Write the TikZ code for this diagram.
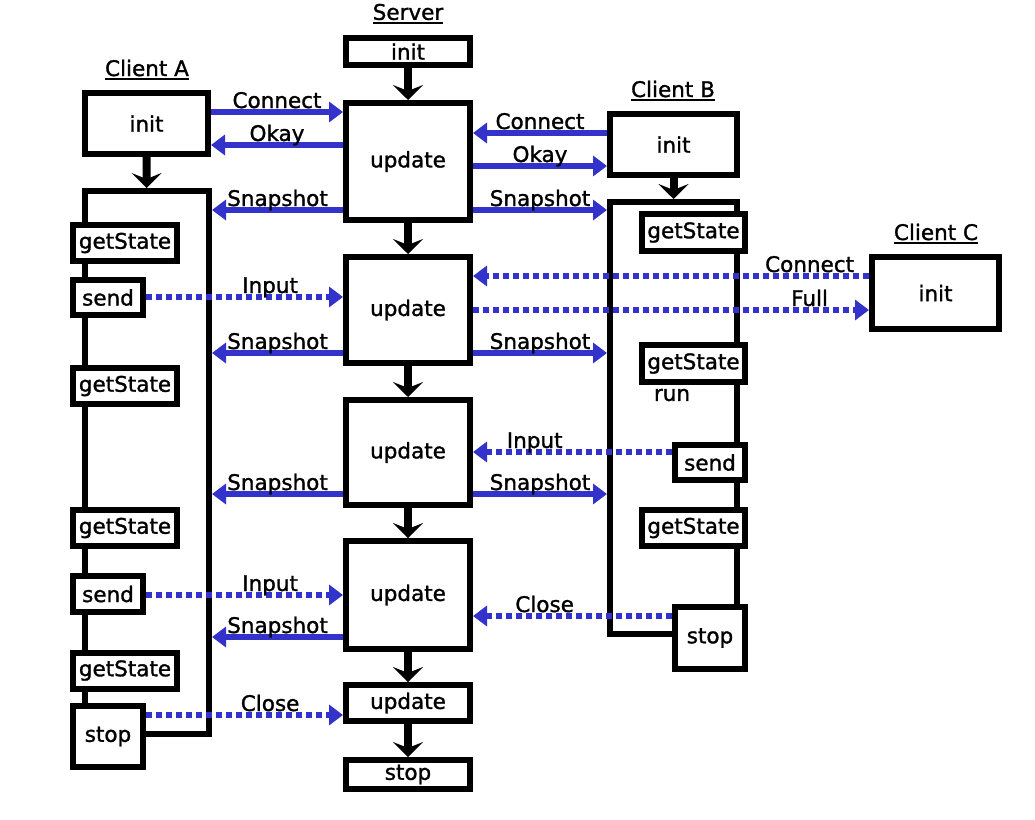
\documentclass[tikz,border=0pt]{standalone}
\usepackage{fontspec}
\newfontfamily\lblfont[FakeBold=1.3]{DejaVu Sans}
\usetikzlibrary{arrows.meta}
\definecolor{msgblue}{RGB}{51,51,204}
\begin{document}
\begin{tikzpicture}[x=1pt,y=-1pt,
  txt/.style={font=\lblfont\fontsize{21.5}{25}\selectfont},
  box/.style={txt, draw, line width=6pt, fill=white, inner sep=0pt},
  header/.style={txt, inner xsep=0pt, inner ysep=2.5pt,
    append after command={(\tikzlastnode.south west) edge[line width=1.6pt] (\tikzlastnode.south east)}},
  flow/.style={line width=8pt, -{Stealth[length=15pt,width=30pt,inset=6pt]}},
  msg/.style={draw=msgblue, line width=6pt, -{Triangle[length=14pt,width=20pt]}},
  msgd/.style={msg, dash pattern=on 6pt off 4pt},
  lbl/.style={txt, anchor=base, yshift=4pt, inner sep=0pt, text=black}
]
\useasboundingbox (0,0) rectangle (1035,819);

% ---------- Server ----------
\node[header] (hs) at (408,12) {Server};
\node[box, minimum width=124, minimum height=27] (sinit) at (408,51.5) {init};
\node[box, minimum width=124, minimum height=117] (su1) at (408,161.5) {update};
\node[box, minimum width=124, minimum height=106] (su2) at (408,310) {update};
\node[box, minimum width=124, minimum height=105] (su3) at (408,452.5) {update};
\node[box, minimum width=124, minimum height=108] (su4) at (408,595) {update};
\node[box, minimum width=124, minimum height=36] (su5) at (408,703) {update};
\node[box, minimum width=124, minimum height=29] (sstop) at (408,774.5) {stop};
\draw[flow] (sinit) -- (su1);
\draw[flow] (su1) -- (su2);
\draw[flow] (su2) -- (su3);
\draw[flow] (su3) -- (su4);
\draw[flow] (su4) -- (su5);
\draw[flow] (su5) -- (sstop);

% ---------- Client A ----------
\node[header] (ha) at (147,68) {Client A};
\node[box, minimum width=123, minimum height=61] (ainit) at (146.5,123.5) {init};
\node[box, minimum width=124, minimum height=543] (arun) at (147,462.5) {};
\draw[flow] (ainit) -- (arun);
\node[box, minimum width=104, minimum height=36] (ags1) at (125,243) {getState};
\node[box, minimum width=70, minimum height=35] (asend1) at (108,297.5) {send};
\node[box, minimum width=104, minimum height=36] (ags2) at (125,386) {getState};
\node[box, minimum width=104, minimum height=36] (ags3) at (125,528) {getState};
\node[box, minimum width=70, minimum height=36] (asend2) at (108,594) {send};
\node[box, minimum width=104, minimum height=36] (ags4) at (125,670.5) {getState};
\node[box, minimum width=70, minimum height=61] (astop) at (108,736.5) {stop};

% ---------- Client B ----------
\node[header] (hb) at (673,89) {Client B};
\node[box, minimum width=127, minimum height=61] (binit) at (673.5,144.5) {init};
\node[box, minimum width=127, minimum height=432] (brun) at (673.5,418) {};
\draw[flow] (binit) -- (brun);
\node[box, minimum width=103, minimum height=37] (bgs1) at (693.5,232.5) {getState};
\node[box, minimum width=103, minimum height=37] (bgs2) at (693.5,363.5) {getState};
\node[txt, inner sep=0pt] (brunlbl) at (672,395) {run};
\node[box, minimum width=70, minimum height=35] (bsend) at (710,462.5) {send};
\node[box, minimum width=103, minimum height=36] (bgs3) at (693.5,528) {getState};
\node[box, minimum width=70, minimum height=62] (bstop) at (710,638) {stop};

% ---------- Client C ----------
\node[header] (hc) at (936,232) {Client C};
\node[box, minimum width=127, minimum height=72] (cinit) at (935.5,293) {init};

% ---------- Messages: Client A ----------
\draw[msg] (ainit.east |- 0,112) -- node[lbl]{Connect} (su1.west |- 0,112);
\draw[msg] (su1.west |- 0,145) -- node[lbl]{Okay} (ainit.east |- 0,145);
\draw[msg] (su1.west |- 0,210) -- node[lbl]{Snapshot} (arun.east |- 0,210);
\draw[msgd] (asend1.east |- 0,297) -- node[lbl, pos=0.63]{Input} (su2.west |- 0,297);
\draw[msg] (su2.west |- 0,353) -- node[lbl]{Snapshot} (arun.east |- 0,353);
\draw[msg] (su3.west |- 0,494) -- node[lbl]{Snapshot} (arun.east |- 0,494);
\draw[msgd] (asend2.east |- 0,595) -- node[lbl, pos=0.63]{Input} (su4.west |- 0,595);
\draw[msg] (su4.west |- 0,637) -- node[lbl]{Snapshot} (arun.east |- 0,637);
\draw[msgd] (astop.east |- 0,715) -- node[lbl, pos=0.63]{Close} (su5.west |- 0,715);

% ---------- Messages: Client B ----------
\draw[msg] (binit.west |- 0,133) -- node[lbl]{Connect} (su1.east |- 0,133);
\draw[msg] (su1.east |- 0,166) -- node[lbl]{Okay} (binit.west |- 0,166);
\draw[msg] (su1.east |- 0,210) -- node[lbl]{Snapshot} (brun.west |- 0,210);
\draw[msg] (su2.east |- 0,353) -- node[lbl]{Snapshot} (brun.west |- 0,353);
\draw[msgd] (bsend.west |- 0,452) -- node[lbl, pos=0.69]{Input} (su3.east |- 0,452);
\draw[msg] (su3.east |- 0,494) -- node[lbl]{Snapshot} (brun.west |- 0,494);
\draw[msgd] (bstop.west |- 0,616) -- node[lbl, pos=0.64]{Close} (su4.east |- 0,616);

% ---------- Messages: Client C ----------
\draw[msgd] (cinit.west |- 0,276) -- node[lbl, pos=0.15]{Connect} (su2.east |- 0,276);
\draw[msgd] (su2.east |- 0,310) -- node[lbl, pos=0.85]{Full} (cinit.west |- 0,310);
\end{tikzpicture}
\end{document}
